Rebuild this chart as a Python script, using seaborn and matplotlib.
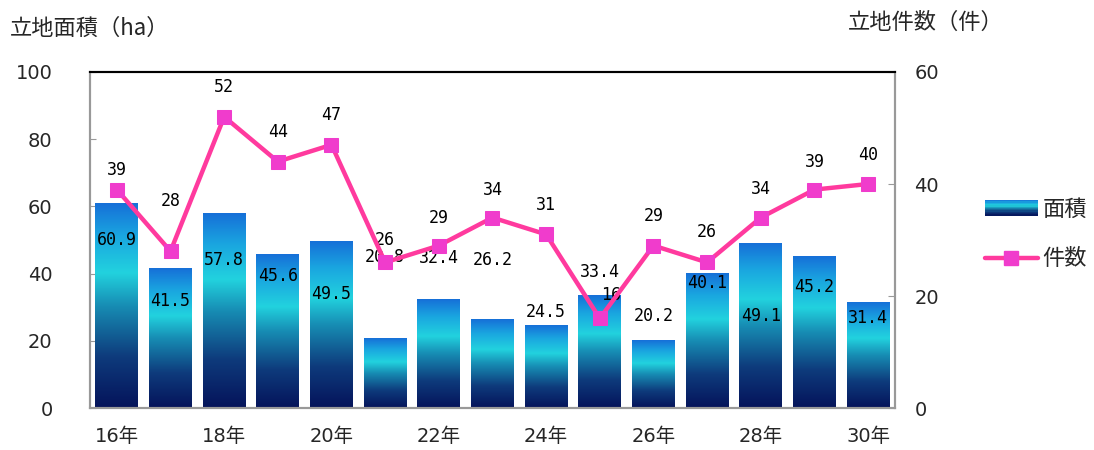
import numpy as np
import pandas as pd
import seaborn as sns
import matplotlib.pyplot as plt
from matplotlib.colors import LinearSegmentedColormap
from matplotlib.patches import Rectangle
from matplotlib.lines import Line2D
from matplotlib.legend_handler import HandlerBase

# data
years = ["16年", "17年", "18年", "19年", "20年", "21年", "22年", "23年",
         "24年", "25年", "26年", "27年", "28年", "29年", "30年"]
area_ha = [60.9, 41.5, 57.8, 45.6, 49.5, 20.8, 32.4, 26.2, 24.5, 33.4, 20.2, 40.1, 49.1, 45.2, 31.4]
counts = [39, 28, 52, 44, 47, 26, 29, 34, 31, 16, 29, 26, 34, 39, 40]

# where the area labels sit (left axis units) and how far count labels float above markers (px)
area_label_y = [50.0, 31.8, 44.0, 39.3, 33.9, 45.0, 44.6, 44.0, 28.6, 40.5, 27.4, 37.2, 27.4, 36.0, 26.8]
count_label_dy = [20, 50, 30, 30, 30, 22, 28, 28, 29, 23, 30, 30, 29, 28, 29]

df = pd.DataFrame({"year": years, "area": area_ha, "count": counts})

sns.set_style("white")
plt.rcParams["font.family"] = ["DejaVu Sans", "Noto Sans CJK JP"]
cjk = ["Noto Sans CJK JP", "DejaVu Sans"]

grad = LinearSegmentedColormap.from_list("bar", [
    (0.0, "#05135a"), (0.25, "#0e3b7c"), (0.5, "#178db4"),
    (0.66, "#22d2de"), (0.84, "#1aa6e0"), (1.0, "#1670d8")])
grad_img = np.linspace(0, 1, 256).reshape(-1, 1)

fig = plt.figure(figsize=(10.94, 4.5), dpi=100)
ax = fig.add_axes([0.0823, 0.0933, 0.7357, 0.7467])

sns.barplot(data=df, x="year", y="area", ax=ax, width=0.8, color="#1a8ac0")
for p in ax.patches:
    x0, y0 = p.get_x(), p.get_y()
    w, h = p.get_width(), p.get_height()
    p.set_facecolor("none")
    p.set_edgecolor("none")
    ax.imshow(grad_img, cmap=grad, origin="lower", aspect="auto",
              extent=(x0, x0 + w, y0, y0 + h), zorder=2)
ax.set_xlim(-0.5, len(years) - 0.5)
ax.set_ylim(0, 100)
ax.set_xlabel("")
ax.set_ylabel("")

for i, v in enumerate(area_ha):
    ax.text(i, area_label_y[i], f"{v:.1f}", ha="center", va="center",
            fontsize=12, family="DejaVu Sans Mono", color="black", zorder=6)

ax2 = ax.twinx()
ax2.set_zorder(ax.get_zorder() + 1)
ax2.patch.set_visible(False)
sns.lineplot(x=np.arange(len(years)), y=counts, ax=ax2, color="#ff3a9e", linewidth=3.2,
             marker="s", markersize=10, markerfacecolor="#f03ccc",
             markeredgecolor="#f03ccc", zorder=4)
ax2.set_ylim(0, 60)
ax2.set_xlim(-0.5, len(years) - 0.5)
for i, c in enumerate(counts):
    dx = 8 if c == 16 else 0
    ax2.annotate(str(c), (i, c), xytext=(dx, count_label_dy[i] * 0.72),
                 textcoords="offset points", ha="center", va="center",
                 fontsize=12, family="DejaVu Sans Mono", color="black")

# axes styling
ax.set_xticks(range(0, len(years), 2))
ax.set_xticklabels(years[::2], fontsize=14)
ax.set_xticks(np.arange(0.5, len(years) - 0.5, 1), minor=True)
ax.tick_params(axis="x", which="major", length=0, pad=14)
ax.tick_params(axis="x", which="minor", direction="in", length=4, color="#999999")
ax.set_yticks(range(0, 101, 20))
ax.tick_params(axis="y", direction="in", length=4, color="#999999", labelsize=14, pad=27)
ax2.set_yticks(range(0, 61, 20))
ax2.tick_params(axis="y", direction="in", length=5, color="#999999", labelsize=14, pad=14)

for a in (ax, ax2):
    for s in ("left", "right", "bottom"):
        a.spines[s].set_color("#999999")
        a.spines[s].set_linewidth(1.5)
    a.spines["top"].set_color("black")
    a.spines["top"].set_linewidth(1.5)

fig.text(0.009, 0.938, "立地面積（ha）", fontsize=16, ha="left", va="center", family=cjk)
fig.text(0.775, 0.951, "立地件数（件）", fontsize=16, ha="left", va="center", family=cjk)


class HandlerGradient(HandlerBase):
    def create_artists(self, legend, orig_handle, xdescent, ydescent,
                       width, height, fontsize, trans):
        n = 12
        parts = []
        for k in range(n):
            parts.append(Rectangle((-xdescent, -ydescent + height * k / n), width, height / n + 0.3,
                                   facecolor=grad((k + 0.5) / n), edgecolor="none",
                                   transform=trans))
        return parts


bar_handle = Rectangle((0, 0), 1, 1)
line_handle = Line2D([], [], color="#ff3a9e", linewidth=3.2, marker="s", markersize=10,
                     markerfacecolor="#f03ccc", markeredgecolor="#f03ccc")
fig.legend([bar_handle, line_handle], ["面積", "件数"],
           handler_map={Rectangle: HandlerGradient()},
           loc="center left", bbox_to_anchor=(0.892, 0.48), frameon=False,
           prop={"family": cjk, "size": 16}, handlelength=2.4, handleheight=0.7,
           labelspacing=1.2, handletextpad=0.2, borderaxespad=0)

fig.savefig("out.png", dpi=100)
